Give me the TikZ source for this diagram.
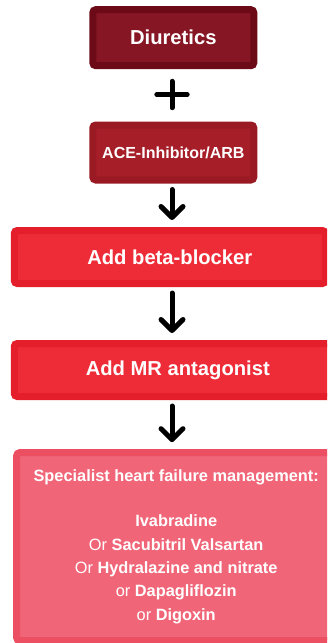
\documentclass[tikz,border=0pt]{standalone}
\usepackage{fontspec}
\setmainfont{Liberation Sans}
\usetikzlibrary{arrows.meta, positioning, calc}
\definecolor{diurline}{RGB}{108,10,24}
\definecolor{diurfill}{RGB}{134,22,36}
\definecolor{aceline}{RGB}{154,26,36}
\definecolor{acefill}{RGB}{166,30,40}
\definecolor{addline}{RGB}{228,30,42}
\definecolor{addfill}{RGB}{238,44,56}
\definecolor{specline}{RGB}{236,78,98}
\definecolor{specfill}{RGB}{240,102,120}
\tikzset{
  drug/.style={rectangle, rounded corners=3pt, line width=7pt, inner sep=0pt, text=white, align=center},
  small/.style={drug, minimum width=161pt},
  wide/.style={drug, minimum height=53pt, font=\bfseries\fontsize{20.2}{24}\selectfont},
  flow/.style={line width=5pt, line cap=round, -{Straight Barb[length=11pt, width=22pt, line cap=round, line join=round]}, shorten <=6pt, shorten >=7pt},
  cross/.style={line width=5pt, line cap=round},
}

\begin{document}
\begin{tikzpicture}[x=1pt, y=-1pt]
  \useasboundingbox (0,0) rectangle (327,643);
  \clip (0,0) rectangle (327,643);

  % First line therapy
  \node[small, draw=diurline, fill=diurfill, minimum height=56pt, font=\bfseries\fontsize{20.2}{24}\selectfont] (diuretics) at (173.3,37.7) {Diuretics};
  \node[minimum width=30pt, minimum height=26pt, inner sep=0pt] (plus) at (172,94.5) {};
  \node[small, draw=aceline, fill=acefill, minimum height=55pt, font=\bfseries\fontsize{16}{19}\selectfont] (acearb) at (173.3,152.5) {ACE-Inhibitor/ARB};

  % Add-on steps
  \node[wide, draw=addline, fill=addfill, minimum width=311pt] (betablocker) at (169.8,257) {Add beta-blocker};
  \node[wide, draw=addline, fill=addfill, minimum width=327pt] (mrantag) at (177.8,370) {Add MR antagonist};
  \node[drug, draw=specline, fill=specfill, minimum width=319pt, minimum height=188pt, font=\fontsize{16.35}{23.4}\selectfont] (specialist) at (176.2,546.7)
    {\textbf{Specialist heart failure management:}\\[22pt]
     \textbf{Ivabradine}\\
     Or \textbf{Sacubitril Valsartan}\\
     Or \textbf{Hydralazine and nitrate}\\
     or \textbf{Dapagliflozin}\\
     or \textbf{Digoxin}};

  % Plus sign and arrows
  \draw[cross] (plus.west) -- (plus.east) (plus.north) -- (plus.south);
  \draw[flow] (acearb.south -| plus) -- (betablocker.north -| plus);
  \draw[flow] (betablocker.south -| plus) -- (mrantag.north -| plus);
  \draw[flow] (mrantag.south -| plus) -- (specialist.north -| plus);
\end{tikzpicture}
\end{document}
